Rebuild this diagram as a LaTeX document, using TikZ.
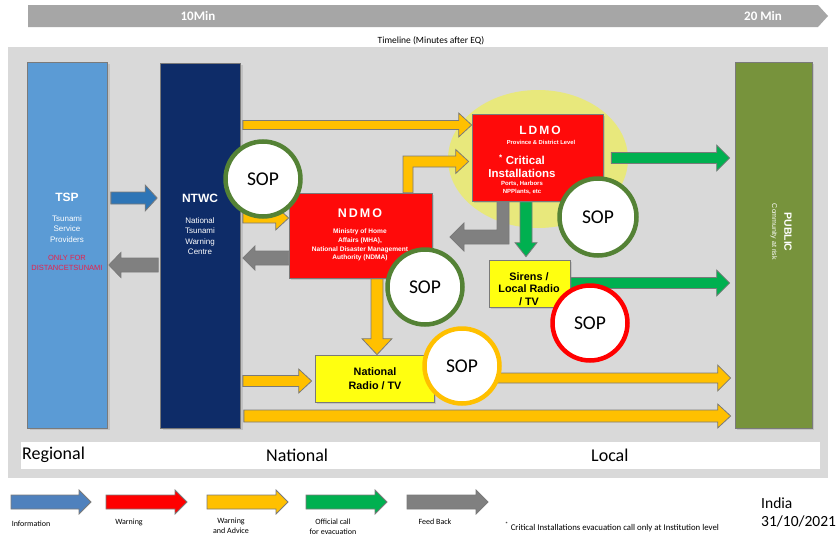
\documentclass[tikz,border=0pt]{standalone}
\usepackage{fontspec}
\setmainfont{Carlito}
\newfontfamily\arialf{Liberation Sans}
\usetikzlibrary{calc,shadows}
\pgfdeclarelayer{bg}
\pgfdeclarelayer{arr}
\pgfsetlayers{bg,arr,main}

\definecolor{panel}{HTML}{D9D9D9}
\definecolor{tl}{HTML}{A6A6A6}
\definecolor{tspblue}{HTML}{5B9BD5}
\definecolor{navy}{HTML}{0E2C68}
\definecolor{pubgreen}{HTML}{77933C}
\definecolor{cred}{HTML}{FF0A0A}
\definecolor{cyel}{HTML}{FFC000}
\definecolor{cgreen}{HTML}{00B050}
\definecolor{cgray}{HTML}{808080}
\definecolor{cblue}{HTML}{2E75B6}
\definecolor{lblue}{HTML}{4F81BD}
\definecolor{edge}{HTML}{7A7A7A}
\definecolor{boxyel}{HTML}{FFFF10}
\definecolor{sopgreen}{HTML}{548235}
\definecolor{ell}{RGB}{232,232,124}
\definecolor{notered}{HTML}{E8204A}

\tikzset{
 blockarrow/.style={draw=edge, line width=0.8pt, line join=miter},
 colbox/.style={draw=edge, line width=0.7pt, inner sep=0pt, drop shadow={shadow xshift=2pt, shadow yshift=-2pt, opacity=0.25}},
 sop/.style={circle, draw=#1, line width=4.5pt, fill=white, minimum size=75pt, inner sep=0pt, font=\fontsize{19.5}{21}\selectfont},
 wtxt/.style={text=white, align=center, inner sep=0pt},
 ktxt/.style={text=black, align=center, inner sep=0pt},
 lgd/.style={align=center, inner sep=0pt, font=\fontsize{8}{10}\selectfont},
 zone/.style={anchor=west, inner sep=0pt, font=\fontsize{18}{20}\selectfont}
}

% #1 head length, #2 colour, #3 from, #4 to, #5 shaft half width, #6 head half width
\newcommand\barrow[6][13]{%
 \path[blockarrow, fill=#2] let \p1=#3, \p2=#4, \n1={atan2(\y2-\y1,\x2-\x1)}, \n2={veclen(\x2-\x1,\y2-\y1)} in
 ($(\p1)+(\n1+90:#5)$) -- ($(\p1)+(\n1:{\n2-#1})+(\n1+90:#5)$) -- ($(\p1)+(\n1:{\n2-#1})+(\n1+90:#6)$) -- (\p2) -- ($(\p1)+(\n1:{\n2-#1})+(\n1-90:#6)$) -- ($(\p1)+(\n1:{\n2-#1})+(\n1-90:#5)$) -- ($(\p1)+(\n1-90:#5)$) -- cycle;}

\begin{document}
\begin{tikzpicture}[x=1pt,y=1pt]
\useasboundingbox (0,0) rectangle (840,-538);

\begin{pgfonlayer}{bg}
\fill[white] (0,0) rectangle (840,-538);
\fill[tl] (28,-5) -- (818,-5) -- (828,-16) -- (818,-27) -- (28,-27) -- cycle;
\fill[panel] (8,-47) rectangle (828,-478);
\fill[white] (21,-442) rectangle (820,-469);
\fill[ell] (538,-159) ellipse [x radius=90, y radius=69];
\end{pgfonlayer}

% timeline texts
\node[text=white, inner sep=0pt, font=\bfseries\fontsize{13}{15}\selectfont] (t10) at (198,-16) {10Min};
\node[text=white, inner sep=0pt, font=\bfseries\fontsize{13}{15}\selectfont] (t20) at (763,-16) {20 Min};
\node[inner sep=0pt, font=\fontsize{9.5}{11}\selectfont] (tlab) at (431,-41) {Timeline (Minutes after EQ)};

% zones
\node[zone] (reg) at (22,-455) {Regional};
\node[zone] (nat) at (266,-455) {National};
\node[zone] (loc) at (591,-455) {Local};

% boxes
\node[colbox, fill=tspblue, minimum width=80pt, minimum height=366pt] (tsp) at (67.5,-245) {};
\node[colbox, fill=navy, minimum width=80pt, minimum height=365pt] (ntwc) at (200.5,-245.5) {};
\node[colbox, fill=pubgreen, minimum width=77pt, minimum height=366pt] (public) at (773.5,-245) {};
\node[colbox, fill=cred, minimum width=143pt, minimum height=85pt] (ndmo) at (360.5,-235.5) {};
\node[colbox, fill=cred, minimum width=131pt, minimum height=87pt] (ldmo) at (537.5,-157.5) {};
\node[colbox, fill=boxyel, minimum width=81pt, minimum height=47pt] (sirens) at (529.5,-283.5) {};
\node[colbox, fill=boxyel, minimum width=119pt, minimum height=47pt] (radio) at (374.5,-378.5) {};

% row / column helpers
\coordinate (rA) at (0,-198);
\coordinate (rB) at (0,-265);
\coordinate (rC) at (0,-125);
\coordinate (rD) at (0,-218);
\coordinate (rE) at (0,-258);
\coordinate (rF) at (0,-158);
\coordinate (cG) at (526,0);
\coordinate (rH) at (0,-283);
\coordinate (cI) at (377,0);
\coordinate (rJ) at (0,-381);
\coordinate (rK) at (0,-378);
\coordinate (rL) at (0,-416);
\coordinate (re1) at (0,-161.5);
\coordinate (e1s) at ($(ndmo.north)+(47.5,0)$);
\coordinate (e1e) at ($(ldmo.west|-re1)+(-3,0)$);
\coordinate (e2s) at ($(ldmo.south)+(-34.5,0)$);
\coordinate (e2e) at (450,-237);

\begin{pgfonlayer}{arr}
\barrow[12]{cblue}{($(tsp.east|-rA)+(3,0)$)}{($(ntwc.west|-rA)+(-3,0)$)}{6}{13}
\barrow[12]{cgray}{($(ntwc.west|-rB)+(-2,0)$)}{($(tsp.east|-rB)+(1,0)$)}{7}{12.5}
\barrow{cyel}{($(ntwc.east|-rC)+(2,0)$)}{(ldmo.west|-rC)}{4.5}{12}
\barrow{cyel}{($(ntwc.east|-rD)+(2,0)$)}{(ndmo.west|-rD)}{5}{12}
\barrow[12]{cgray}{(ndmo.west|-rE)}{($(ntwc.east|-rE)+(2,0)$)}{7}{12}
\barrow{cgreen}{($(ldmo.east|-rF)+(8,0)$)}{($(public.west|-rF)+(-5,0)$)}{5.5}{13}
\barrow[14]{cgreen}{(ldmo.south-|cG)}{($(sirens.north-|cG)+(0,3)$)}{6}{11}
\barrow{cgreen}{(sirens.east|-rH)}{($(public.west|-rH)+(-5,0)$)}{5.5}{13}
\barrow[16]{cyel}{(ndmo.south-|cI)}{(radio.north-|cI)}{6}{15}
\barrow{cyel}{($(ntwc.east|-rJ)+(2,0)$)}{($(radio.west|-rJ)+(-3,0)$)}{5.5}{12}
\barrow{cyel}{(radio.east|-rK)}{($(public.west|-rK)+(-4,0)$)}{5}{13}
\barrow{cyel}{($(ntwc.east|-rL)+(3,0)$)}{($(public.west|-rL)+(-4,0)$)}{6}{12}
% elbow NDMO -> LDMO
\path[blockarrow, fill=cyel] let \p1=(e1s), \p2=(e1e) in
 (\x1-5,\y1) -- (\x1-5,\y2+5.5) -- (\x2-13,\y2+5.5) -- (\x2-13,\y2+12) -- (\p2) -- (\x2-13,\y2-12) -- (\x2-13,\y2-5.5) -- (\x1+5,\y2-5.5) -- (\x1+5,\y1) -- cycle;
% elbow LDMO -> NDMO (feedback)
\path[blockarrow, fill=cgray] let \p1=(e2s), \p2=(e2e) in
 (\x1+6,\y1) -- (\x1+6,\y2-7) -- (\x2+14,\y2-7) -- (\x2+14,\y2-14) -- (\p2) -- (\x2+14,\y2+14) -- (\x2+14,\y2+7) -- (\x1-6,\y2+7) -- (\x1-6,\y1) -- cycle;
\end{pgfonlayer}

% box texts
\node[wtxt, font=\arialf\bfseries\fontsize{12}{14}\selectfont] (tspt) at (67,-197) {TSP};
\node[wtxt, font=\arialf\fontsize{8}{10.5}\selectfont] (tsps) at (67,-229) {Tsunami\\Service\\Providers};
\node[align=center, inner sep=0pt, text=notered, font=\arialf\fontsize{7.5}{9.5}\selectfont] (tspn) at (67,-263) {ONLY FOR\\DISTANCETSUNAMI};

\node[wtxt, font=\arialf\bfseries\fontsize{12}{14}\selectfont] (ntwct) at (200,-198) {NTWC};
\node[wtxt, font=\arialf\fontsize{8}{10.5}\selectfont] (ntwcs) at (200,-236) {National\\Tsunami\\Warning\\Centre};

\node[wtxt, font=\arialf\bfseries\fontsize{12.5}{14}\selectfont] (ndmot) at (360,-213) {N\,D\,M\,O};
\node[wtxt, font=\arialf\bfseries\fontsize{6.6}{8.7}\selectfont] (ndmos) at (360,-245) {Ministry of Home\\Affairs (MHA),\\National Disaster Management\\Authority (NDMA)};

\node[wtxt, font=\arialf\bfseries\fontsize{12}{14}\selectfont] (ldmot) at (540,-130) {L\,D\,M\,O};
\node[wtxt, font=\arialf\bfseries\fontsize{5.8}{7}\selectfont] (ldmop) at (541,-142) {Province \& District Level};
\node[wtxt, font=\arialf\bfseries\fontsize{11.5}{13}\selectfont] (ldmoc) at (522,-166) {\textsuperscript{*} Critical\\Installations};
\node[wtxt, font=\arialf\bfseries\fontsize{6}{8}\selectfont] (ldmoi) at (522,-188) {Ports, Harbors\\NPPlants, etc};

\node[ktxt, font=\arialf\bfseries\fontsize{10.8}{12.5}\selectfont] (sirt) at (529,-289) {Sirens /\\Local Radio\\/ TV};
\node[ktxt, font=\arialf\bfseries\fontsize{10.8}{14}\selectfont] (radt) at (375,-379) {National\\Radio / TV};

\node[wtxt, rotate=-90, font=\arialf\bfseries\fontsize{10.5}{11}\selectfont] (pubt) at (788,-232) {PUBLIC};
\node[wtxt, rotate=-90, font=\arialf\fontsize{7}{8}\selectfont] (pubs) at (774,-232) {Community at risk};

% SOP circles
\node[sop=sopgreen] (sop1) at (263,-179) {SOP};
\node[sop=sopgreen] (sop2) at (425,-287) {SOP};
\node[sop=sopgreen, minimum size=77pt] (sop3) at (598,-217) {SOP};
\node[sop=red] (sop4) at (590,-323) {SOP};
\node[sop=cyel] (sop5) at (462,-366) {SOP};

% legend
\coordinate (la1) at (11,-502);  \coordinate (lb1) at (91,-502);
\coordinate (la2) at (106,-502); \coordinate (lb2) at (187,-502);
\coordinate (la3) at (207,-502); \coordinate (lb3) at (288,-502);
\coordinate (la4) at (306,-502); \coordinate (lb4) at (387,-502);
\coordinate (la5) at (407,-502); \coordinate (lb5) at (488,-502);
\barrow[12]{lblue}{(la1)}{(lb1)}{7}{12}
\barrow[12]{red}{(la2)}{(lb2)}{7}{12}
\barrow[12]{cyel}{(la3)}{(lb3)}{7}{12}
\barrow[12]{cgreen}{(la4)}{(lb4)}{7}{12}
\barrow[12]{cgray}{(la5)}{(lb5)}{7}{12}
\node[lgd] (l1) at (31,-524) {Information};
\node[lgd] (l2) at (129,-522) {Warning};
\node[lgd] (l3) at (231,-526) {Warning\\and Advice};
\node[lgd] (l4) at (333,-527) {Official call\\for evacuation};
\node[lgd] (l5) at (435,-522) {Feed Back};
\node[anchor=west, inner sep=0pt, font=\fontsize{8.8}{10}\selectfont] (fn) at (505,-527) {\textsuperscript{*} Critical Installations evacuation call only at Institution level};
\node[anchor=west, inner sep=0pt, font=\fontsize{15.5}{18}\selectfont] (india) at (761,-503) {India};
\node[anchor=west, inner sep=0pt, font=\fontsize{15.5}{18}\selectfont] (date) at (761,-521) {31/10/2021};
\end{tikzpicture}
\end{document}
